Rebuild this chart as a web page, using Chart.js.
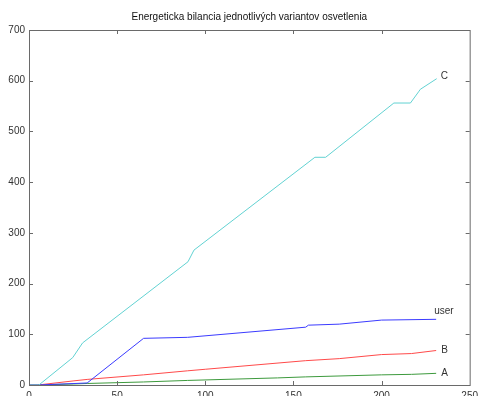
<!DOCTYPE html>
<html>
<head>
<meta charset="utf-8">
<script src="https://cdn.jsdelivr.net/npm/chart.js@4"></script>
<style>
  html, body { margin: 0; padding: 0; overflow: hidden; background: #fff; }
</style>
</head>
<body>
<canvas id="chart" width="483" height="410"></canvas>
<script>
// values
const cX = [0, 5.6, 24.8, 30.4, 90.2, 93.6, 162.2, 168.3, 207, 216.4, 221, 222, 231.3];
const cY = [0, 0, 54, 83, 243, 266, 449, 449, 556, 556, 578, 583, 604];

const userX = [0, 5, 33, 65, 90, 157, 158.5, 176, 200, 231];
const userY = [0, 0, 4, 92, 94, 114, 118, 120, 128, 129.5];

const bX = [0, 5, 25, 33, 65, 90, 100, 157, 176, 200, 217, 231];
const bY = [0, 0, 8, 11, 20, 28, 31, 48, 52, 60, 62, 68];

const aX = [0, 5, 25, 33, 65, 90, 141, 157, 200, 217, 231];
const aY = [0, 0, 2, 3, 6, 9, 14, 16, 20, 21, 23];

const xTicks = [0, 50, 100, 150, 200, 250];
const yTicks = [0, 100, 200, 300, 400, 500, 600, 700];

const title = 'Energeticka bilancia jednotlivých variantov osvetlenia';

const pts = (xs, ys) => xs.map((x, i) => ({ x, y: ys[i] }));
const FONT = '"Liberation Sans", Arial, sans-serif';

const series = [
  { label: 'C', data: pts(cX, cY), color: '#62d2d2', dx: 4, dy: -2 },
  { label: 'user', data: pts(userX, userY), color: '#3b3bff', dx: -2, dy: -8 },
  { label: 'B', data: pts(bX, bY), color: '#ff4a4a', dx: 5, dy: 0 },
  { label: 'A', data: pts(aX, aY), color: '#3d9a3d', dx: 5, dy: 0 }
];

const framePlugin = {
  id: 'frame',
  afterDraw(chart) {
    const { ctx, chartArea: a, scales: { x, y } } = chart;
    ctx.save();
    ctx.strokeStyle = '#6a6a6a';
    ctx.lineWidth = 1;
    ctx.strokeRect(a.left + 0.5, a.top + 0.5, a.right - a.left, a.bottom - a.top);
    ctx.beginPath();
    xTicks.slice(1, -1).forEach(v => {
      const px = Math.round(x.getPixelForValue(v)) + 0.5;
      ctx.moveTo(px, a.bottom); ctx.lineTo(px, a.bottom - 4);
      ctx.moveTo(px, a.top); ctx.lineTo(px, a.top + 4);
    });
    yTicks.slice(1, -1).forEach(v => {
      const py = Math.round(y.getPixelForValue(v)) + 0.5;
      ctx.moveTo(a.left, py); ctx.lineTo(a.left + 4, py);
      ctx.moveTo(a.right, py); ctx.lineTo(a.right - 4, py);
    });
    ctx.stroke();

    // title
    ctx.fillStyle = '#111';
    ctx.font = '10px ' + FONT;
    ctx.textAlign = 'center';
    ctx.textBaseline = 'middle';
    ctx.fillText(title, (a.left + a.right) / 2, 17);

    // end-of-line labels
    ctx.font = '10px ' + FONT;
    ctx.fillStyle = '#333';
    ctx.textAlign = 'left';
    series.forEach(s => {
      const last = s.data[s.data.length - 1];
      ctx.fillText(s.label, x.getPixelForValue(last.x) + s.dx, y.getPixelForValue(last.y) + s.dy);
    });
    ctx.restore();
  }
};

new Chart(document.getElementById('chart'), {
  type: 'line',
  data: {
    datasets: series.map(s => ({
      label: s.label,
      data: s.data,
      borderColor: s.color,
      borderWidth: 1,
      pointRadius: 0,
      tension: 0,
      fill: false
    }))
  },
  options: {
    responsive: false,
    animation: false,
    layout: { padding: { top: 30, right: 8, left: 0, bottom: 0 }, autoPadding: false },
    plugins: { legend: { display: false }, title: { display: false }, tooltip: { enabled: false } },
    scales: {
      x: {
        type: 'linear', min: 0, max: 250,
        afterBuildTicks: s => { s.ticks = xTicks.map(v => ({ value: v })); },
        afterFit: s => { s.height = 25; },
        grid: { display: false, drawTicks: false },
        border: { display: false },
        ticks: { padding: 5, color: '#333', font: { family: FONT, size: 10 }, maxRotation: 0 }
      },
      y: {
        type: 'linear', min: 0, max: 700,
        afterBuildTicks: s => { s.ticks = yTicks.map(v => ({ value: v })); },
        afterFit: s => { s.width = 29; },
        grid: { display: false, drawTicks: false },
        border: { display: false },
        ticks: { padding: 4, color: '#333', font: { family: FONT, size: 10 } }
      }
    }
  },
  plugins: [framePlugin]
});
</script>
</body>
</html>
